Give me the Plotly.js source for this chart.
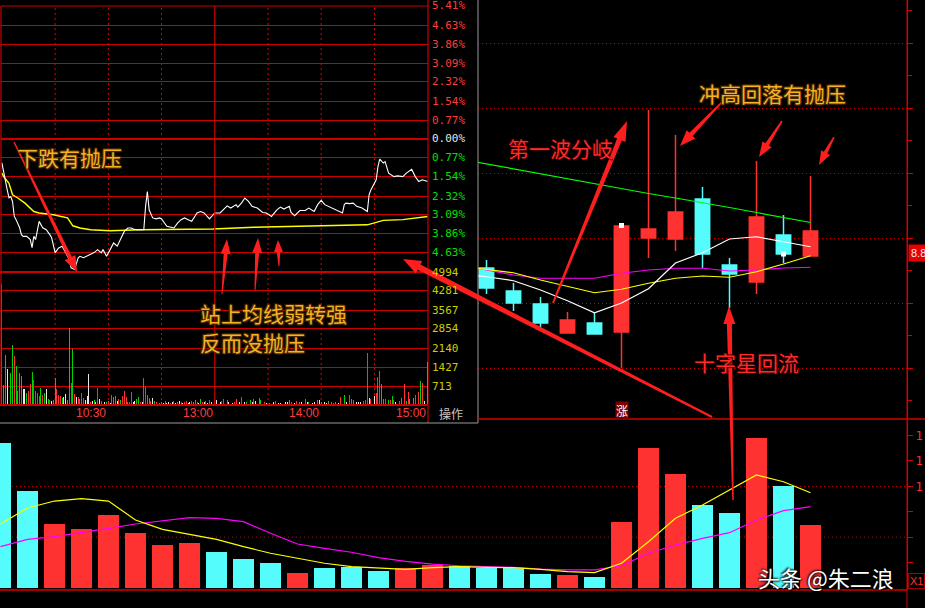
<!DOCTYPE html>
<html>
<head>
<meta charset="utf-8">
<script src="https://cdn.plot.ly/plotly-3.0.1.min.js"></script>
<style>
html,body{margin:0;padding:0;background:#000;overflow:hidden;}
#chart{width:925px;height:608px;}
</style>
</head>
<body>
<div id="chart"></div>
<script>
/* ================= DATA ================= */
/* Daily K-line, visible part (index = trading day) */
const candleIdx = [18,19,20,21,22,23,24,25,26,27,28,29,30];
const openP  = [8.740,8.648,8.596,8.480,8.520,8.484,8.860,8.856,9.016,8.752,8.684,8.872,8.788];
const closeP = [8.660,8.600,8.520,8.532,8.476,8.908,8.896,8.964,8.796,8.716,8.944,8.796,8.888];
const highP  = [8.772,8.680,8.624,8.564,8.560,8.920,9.372,9.272,9.064,8.780,9.168,8.952,9.108];
const lowP   = [8.636,8.568,8.504,8.480,8.476,8.340,8.780,8.808,8.740,8.580,8.636,8.760,8.788];

const maIdx = [17,18,19,20,21,22,23,24,25,26,27,28,29,30];
const ma5P  = [8.716,8.705,8.689,8.652,8.609,8.561,8.600,8.657,8.760,8.801,8.856,8.865,8.845,8.825];
const ma10P = [8.748,8.734,8.721,8.692,8.665,8.641,8.655,8.679,8.699,8.708,8.703,8.725,8.756,8.789];
const ma20P = [8.756,8.732,8.712,8.699,8.699,8.699,8.719,8.732,8.739,8.739,8.728,8.732,8.740,8.743];
const ma60P = [9.176,9.156,9.136,9.116,9.096,9.078,9.058,9.038,9.020,9.002,8.982,8.962,8.942,8.922];

const signalIdx = [23,29];
const signalP   = [8.910,8.796];
const lastPrice = 8.80;
const lastPriceText = "8.8";

/* Daily volume (lots) */
const volIdx = [0,1,2,3,4,5,6,7,8,9,10,11,12,13,14,15,16,17,18,19,20,21,22,23,24,25,26,27,28,29,30];
const volAmt = [171600,114900,75600,69700,86200,65000,50800,53100,42500,34300,29500,17700,24000,24800,20100,24000,27200,26300,23600,23600,16500,15400,13300,78300,165700,135000,98000,88600,177500,120800,74400];
const volDir = ['d','d','u','u','u','u','u','u','d','d','d','u','d','d','d','u','u','d','d','d','d','u','d','u','u','u','d','d','u','d','u'];
const volMa5  = [75600,94500,102700,105500,102700,80300,69300,63800,57500,48800,41000,35100,29200,25200,23300,22100,24000,25200,24400,24000,22100,19300,18100,29200,54700,82300,98000,115700,133500,125500,112500];
const volMa10 = [48800,57500,60600,65300,70500,75600,79500,83000,82300,78300,64600,52000,46900,42200,35800,31500,28300,26300,25200,24400,22400,21300,21300,26300,41000,50800,58700,65300,80300,91300,96000];
const volTickVals = [30000,60000,90000,120000,150000,180000];
const volTickText = ["","","","1","1","1"];
const volGridVals = [60000,120000];

/* Intraday (minute index 0..240, 120 = 13:00) */
const tickT = [0,1,2,3,4,5,6,7,8,10,11,12,14,16,17,18,19,20,21,23,25,27,28,30,32,34,36,38,39,41,43,44,46,48,50,52,54,56,57,59,61,63,65,67,69,71,73,74,76,79,80,81,82,83,85,87,89,90,93,97,99,101,103,105,107,110,112,114,117,120,123,127,129,132,133,135,137,139,141,144,147,149,152,155,157,159,162,163,165,168,171,173,176,178,180,182,184,187,190,192,193,194,196,198,200,203,206,207,208,209,211,212,213,215,216,218,221,223,226,228,231,233,235,237,240];
const tickPct = [-0.97,-1.38,-1.66,-2.07,-2.39,-2.34,-2.54,-3.15,-3.28,-3.61,-3.89,-3.96,-3.96,-4.09,-4.42,-3.96,-4.09,-3.69,-3.35,-3.61,-3.69,-3.89,-4.01,-4.62,-4.43,-4.36,-4.62,-4.90,-5.24,-5.31,-4.83,-4.77,-4.83,-4.77,-4.70,-4.62,-4.50,-4.63,-4.50,-4.77,-4.50,-4.23,-4.36,-4.09,-3.76,-3.62,-3.62,-3.66,-3.69,-3.69,-3.69,-2.74,-2.14,-2.88,-3.21,-3.25,-3.21,-3.25,-3.55,-3.62,-3.42,-3.28,-3.21,-3.28,-3.35,-3.01,-2.95,-3.01,-3.25,-3.01,-3.01,-2.72,-2.81,-2.67,-2.77,-2.61,-2.40,-2.54,-2.74,-2.81,-2.99,-3.01,-3.15,-2.88,-2.77,-2.85,-2.74,-2.99,-3.12,-2.91,-2.91,-2.81,-2.95,-2.67,-2.50,-2.67,-2.74,-2.85,-2.95,-3.01,-2.67,-2.61,-2.63,-2.61,-2.74,-2.81,-2.95,-2.27,-2.07,-1.93,-1.66,-1.12,-0.82,-0.98,-0.92,-1.39,-1.53,-1.50,-1.53,-1.39,-1.23,-1.53,-1.73,-1.66,-1.73];
const avgT   = [0,1,4,6,9,13,18,21,29,37,40,44,50,61,78,119,142,179,206,211,215,226,234,240];
const avgPct = [-1.38,-1.53,-1.80,-2.27,-2.40,-2.61,-2.95,-3.01,-3.08,-3.21,-3.53,-3.62,-3.69,-3.73,-3.69,-3.66,-3.59,-3.55,-3.49,-3.39,-3.31,-3.28,-3.21,-3.15];

const amVol = [4538,750,1875,1350,563,1200,2250,1838,1463,525,
  1200,1088,600,600,450,525,788,1238,938,525,
  450,338,638,375,450,600,225,188,150,188,
  1013,600,375,338,263,300,413,188,2888,825,
  2100,413,300,300,225,450,263,188,338,1163,
  113,150,188,113,638,225,150,113,113,113,
  150,75,375,300,338,150,225,188,338,525,
  300,113,113,488,113,150,225,300,113,113,
  1013,675,375,263,150,263,150,113,113,75,
  113,75,150,75,113,75,113,150,75,113,
  150,113,75,113,150,75,113,150,113,188,
  113,75,225,113,113,150,75,188,113,225];
const amDir = ("gggwrggrgg"+"ggwwgrrgrr"+"rrgrgwgrwg"+"grrrgwwggr"+"grwrgrrwww"+"rwgwrwgrwg"+"rwrggwrgrr"+"rgrrwwggrw"+"rrggrwgrwg"+"gwgwwrwrwr"+"wrwrrwwrgg"+"rwgrwrwrwr").split("");
const pmT = [120,121,123,124,125,127,128,130,131,132,134,135,137,138,140,141,142,143,145,146,148,149,150,151,153,154,156,157,158,160,161,162,163,165,166,168,169,171,172,173,175,176,178,179,180,182,183,184,186,187,188,190,191,193,194,196,197,198,200,201,202,204,205,206,207,208,210,211,212,213,214,215,216,218,219,220,221,222,224,225,227,228,229,230,232,233,234,235,236,237,238,240];
const pmVol = [113,188,113,150,225,188,113,75,113,225,
  113,300,113,113,188,113,225,150,263,188,
  113,75,113,75,113,150,75,75,38,113,
  113,188,113,75,150,113,113,225,113,113,
  75,113,188,188,113,113,75,150,113,75,
  113,75,300,375,113,375,225,188,113,113,
  113,150,188,1950,263,225,338,450,1050,1275,
  788,225,225,188,188,338,188,113,150,263,
  788,150,488,225,263,375,225,488,900,825,
  150,1613];
const pmDir = ("rwwrrgwwrr"+"wrwggwrwgg"+"rwwgwrwwgw"+"wgrwrgwrwg"+"wwrwgwwggr"+"gwrgwrggww"+"wrrrwrwrrr"+"ggrgrgrwrg"+"rgrggrgrgr"+"ww").split("");

const pctVals = [5.41,4.63,3.86,3.09,2.32,1.54,0.77,0,-0.77,-1.54,-2.32,-3.09,-3.86,-4.63];
const pctText = ["5.41%","4.63%","3.86%","3.09%","2.32%","1.54%","0.77%","0.00%","0.77%","1.54%","2.32%","3.09%","3.86%","4.63%"];
const ivolVals = [4994,4281,3567,2854,2140,1427,713];
const ivolText = ["4994","4281","3567","2854","2140","1427","713"];
const timeT = [60,120,180,240];
const timeText = ["10:30","13:00","14:00","15:00"];
const dotTimeT = [30,60,90,150,180,210];

/* ================= HELPERS ================= */
const W = 925, H = 608;
const X = px => px / W;
const Y = py => 1 - py / H;
const RED = '#ff3232', CYAN = '#54fcfc', GRID = '#cc0000', AXR = '#d40000';
const dirColor = {u: RED, d: CYAN};
const iColor = {r: '#ff3232', g: '#00d400', w: '#e8e8e8'};
const CJK = 'Noto Sans CJK SC';
const MONO = 'DejaVu Sans Mono';

/* ================= TRACES ================= */
const traces = [
  {type:'bar', x: amVol.map((v,i)=>i), y: amVol, xaxis:'x3', yaxis:'y4', width:0.55,
   marker:{color: amDir.map(c=>iColor[c]), line:{width:0}}, hoverinfo:'skip'},
  {type:'bar', x: pmT, y: pmVol, xaxis:'x3', yaxis:'y4', width:0.55,
   marker:{color: pmDir.map(c=>iColor[c]), line:{width:0}}, hoverinfo:'skip'},
  {type:'scatter', mode:'lines', x: avgT, y: avgPct, xaxis:'x3', yaxis:'y3',
   line:{color:'#ffff00', width:1.4}, hoverinfo:'skip'},
  {type:'scatter', mode:'lines', x: tickT, y: tickPct, xaxis:'x3', yaxis:'y3',
   line:{color:'#ffffff', width:1.1}, hoverinfo:'skip'},
  {type:'bar', x: volIdx, y: volAmt, xaxis:'x2', yaxis:'y2', width:0.78,
   marker:{color: volDir.map(d=>dirColor[d]), line:{width:0}}, hoverinfo:'skip'},
  {type:'scatter', mode:'lines', x: volIdx, y: volMa10, xaxis:'x2', yaxis:'y2',
   line:{color:'#ff00ff', width:1.2}, hoverinfo:'skip'},
  {type:'scatter', mode:'lines', x: volIdx, y: volMa5, xaxis:'x2', yaxis:'y2',
   line:{color:'#ffff00', width:1.2}, hoverinfo:'skip'},
  {type:'candlestick', x: candleIdx, open: openP, high: highP, low: lowP, close: closeP,
   xaxis:'x', yaxis:'y', whiskerwidth:0,
   increasing:{line:{color:RED, width:1.5}, fillcolor:RED},
   decreasing:{line:{color:CYAN, width:1.5}, fillcolor:CYAN}, hoverinfo:'skip'},
  {type:'scatter', mode:'lines', x: maIdx, y: ma60P, xaxis:'x', yaxis:'y',
   line:{color:'#00ff00', width:1.2}, hoverinfo:'skip'},
  {type:'scatter', mode:'lines', x: maIdx, y: ma20P, xaxis:'x', yaxis:'y',
   line:{color:'#ff00ff', width:1.2}, hoverinfo:'skip'},
  {type:'scatter', mode:'lines', x: maIdx, y: ma10P, xaxis:'x', yaxis:'y',
   line:{color:'#ffff00', width:1.2}, hoverinfo:'skip'},
  {type:'scatter', mode:'lines', x: maIdx, y: ma5P, xaxis:'x', yaxis:'y',
   line:{color:'#ffffff', width:1.2}, hoverinfo:'skip'},
  {type:'scatter', mode:'markers', x: signalIdx, y: signalP, xaxis:'x', yaxis:'y',
   marker:{symbol:'square', size:5, color:'#ffffff'}, hoverinfo:'skip'}
];

/* ================= SHAPES ================= */
function hline(py, x0, x1, color, w, dash) {
  return {type:'line', xref:'paper', yref:'paper', x0:X(x0), x1:X(x1), y0:Y(py), y1:Y(py),
          line:{color, width:w, dash: dash || 'solid'}, layer:'above'};
}
function vline(px, y0, y1, color, w) {
  return {type:'line', xref:'paper', yref:'paper', x0:X(px), x1:X(px), y0:Y(y0), y1:Y(y1),
          line:{color, width:w}, layer:'above'};
}
function arrowShape(tx, ty, hx, hy, wt, wn, hl, hw) {
  const dx = hx - tx, dy = hy - ty, L = Math.hypot(dx, dy);
  const ux = dx / L, uy = dy / L, nx = -uy, ny = ux;
  const cx = hx - ux * hl, cy = hy - uy * hl;
  const pts = [
    [tx + nx*wt/2, ty + ny*wt/2], [cx + nx*wn/2, cy + ny*wn/2], [cx + nx*hw/2, cy + ny*hw/2],
    [hx, hy],
    [cx - nx*hw/2, cy - ny*hw/2], [cx - nx*wn/2, cy - ny*wn/2], [tx - nx*wt/2, ty - ny*wt/2]
  ];
  const path = 'M' + pts.map(p => X(p[0]).toFixed(5) + ',' + Y(p[1]).toFixed(5)).join('L') + 'Z';
  return {type:'path', xref:'paper', yref:'paper', path, fillcolor:'#ff1e1e',
          line:{width:0}, layer:'above'};
}

const shapes = [];
// inset dotted time lines
dotTimeT.forEach(t => shapes.push({type:'line', xref:'x3', yref:'paper', x0:t, x1:t, y0:Y(405), y1:Y(6),
  line:{color:'#e00000', width:1, dash:'2px,3px'}, layer:'below'}));
shapes.push(
  hline(6, 1, 428, GRID, 1.2),
  vline(1, 6, 405, GRID, 1.2),
  vline(428, 0, 423, GRID, 1.2),
  hline(139, 1, 428, GRID, 2),
  hline(272, 0, 428, GRID, 2),
  hline(405, 0, 428, GRID, 2),
  {type:'line', xref:'x3', yref:'paper', x0:120, x1:120, y0:Y(405), y1:Y(6),
   line:{color:GRID, width:1.2}, layer:'above'},
  vline(478, 0, 423, '#9a9a9a', 1),
  hline(423, 0, 478, '#9a9a9a', 1),
  hline(419, 478, 925, AXR, 1.5),
  hline(590, 0, 907, AXR, 1.5),
  vline(907, 0, 608, AXR, 1),
  arrowShape(14, 142, 77, 272, 1.5, 4, 16, 12),
  arrowShape(222, 294, 227, 239, 1, 4, 15, 10),
  arrowShape(255, 290, 258, 238, 1, 4, 15, 10),
  arrowShape(279, 266, 278, 240, 1, 3.5, 12, 9),
  arrowShape(712, 417, 403, 259, 2, 6, 18, 14),
  arrowShape(553, 303, 627, 121, 2, 5, 20, 13),
  arrowShape(722, 102, 680, 146, 1.5, 4.5, 16, 12),
  arrowShape(782, 121, 759, 157, 1.5, 4, 15, 11),
  arrowShape(834, 137, 819, 165, 1.5, 4, 14, 10),
  arrowShape(733, 500, 729, 306, 1.5, 5, 18, 12)
);
volGridVals.forEach(v => shapes.push({type:'line', xref:'paper', yref:'y2', x0:0, x1:X(907), y0:v, y1:v,
  line:{color:GRID, width:1, dash:'1px,3px'}, layer:'below'}));

/* ================= ANNOTATIONS ================= */
const ann = [];
const GOLD = '#f2b325';
const goldShadow = '1px 1px 1px #4a2800, -1px -1px 1px #4a2800, 1px -1px 1px #4a2800, -1px 1px 1px #4a2800';
const redShadow = '1px 1px 1px #300000, -1px -1px 1px #300000';
function cjkTxt(text, px, py, color, shadow, size) {
  ann.push({xref:'paper', yref:'paper', x:X(px), y:Y(py), xanchor:'left', yanchor:'middle',
    text, showarrow:false, font:{family:CJK, size: size || 21, color, shadow}});
}
cjkTxt('下跌有抛压', 15, 157, GOLD, goldShadow);
cjkTxt('站上均线弱转强', 198, 313, GOLD, goldShadow);
cjkTxt('反而没抛压', 198, 342, GOLD, goldShadow);
cjkTxt('第一波分岐', 506, 148, '#ff2a2a', redShadow);
cjkTxt('冲高回落有抛压', 697, 93, GOLD, goldShadow);
cjkTxt('十字星回流', 692, 362, '#ff2a2a', redShadow);
cjkTxt('头条 @朱二浪', 756, 577, '#ffffff', '1px 1px 2px #000, -1px -1px 2px #000', 22);

pctVals.forEach((v, i) => {
  const c = v > 0 ? '#ff3c3c' : (v < 0 ? '#00e000' : '#e6e6e6');
  ann.push({xref:'paper', yref:'y3', x:X(430), y:v, xanchor:'left', yanchor:'middle',
    text:pctText[i], showarrow:false, font:{family:MONO, size:11, color:c}});
});
ivolVals.forEach((v, i) => {
  ann.push({xref:'paper', yref:'y4', x:X(430), y:v, xanchor:'left', yanchor:'middle',
    text:ivolText[i], showarrow:false, font:{family:MONO, size:11, color:'#cccc00'}});
});
timeT.forEach((t, i) => {
  ann.push({xref:'x3', yref:'paper', x:t, y:Y(413), xanchor:'right', yanchor:'middle',
    text:timeText[i], showarrow:false, font:{family:'Liberation Sans', size:12, color:'#ff3c3c'}});
});
ann.push({xref:'paper', yref:'paper', x:X(451), y:Y(413), xanchor:'center', yanchor:'middle',
  text:'操作', showarrow:false, font:{family:CJK, size:12, color:'#c8c8c8'}});

ann.push({xref:'paper', yref:'y', x:X(908), y:lastPrice, xanchor:'left', yanchor:'middle',
  text:lastPriceText, showarrow:false, bgcolor:'#e60000', borderpad:2,
  font:{family:'Liberation Sans', size:11, color:'#ffe4e4'}});
ann.push({xref:'x', yref:'paper', x:23, y:Y(410), xanchor:'center', yanchor:'middle',
  text:'涨', showarrow:false, bgcolor:'#7a0000', borderpad:0,
  font:{family:CJK, size:12, color:'#ffffff'}});
ann.push({xref:'paper', yref:'paper', x:X(908), y:Y(581), xanchor:'left', yanchor:'middle',
  text:'X1', showarrow:false, bordercolor:'#a00000', borderwidth:1, borderpad:1,
  font:{family:'Liberation Sans', size:11, color:'#ff3030'}});

/* ================= LAYOUT ================= */
const priceTop = 9.812, priceBot = 8.136;
const hidden = {showgrid:false, zeroline:false, showticklabels:false, ticks:'', showline:false, fixedrange:true};
const layout = {
  width: W, height: H,
  margin:{l:0, r:0, t:0, b:0, pad:0},
  paper_bgcolor:'#000', plot_bgcolor:'#000',
  showlegend:false, hovermode:false, dragmode:false,
  boxgap:0.24, bargap:0,
  xaxis: Object.assign({}, hidden, {domain:[X(478), X(907)], range:[17.6852, 33.5741], anchor:'y',
    rangeslider:{visible:false}}),
  yaxis: {domain:[Y(419), 1], range:[priceBot, priceTop], anchor:'x', side:'right',
    showline:true, linecolor:AXR, linewidth:1, ticks:'outside', ticklen:5, tickcolor:AXR,
    tickmode:'linear', tick0:8.34, dtick:0.26, showticklabels:false,
    showgrid:true, gridcolor:'#d00000', gridwidth:1, griddash:'1px,3px', zeroline:false, fixedrange:true,
    minor:{tickmode:'linear', tick0:8.21, dtick:0.26, ticks:'outside', ticklen:4, tickcolor:AXR, showgrid:false}},
  xaxis2: Object.assign({}, hidden, {domain:[0, X(907)], range:[-0.018519, 33.5741], anchor:'y2'}),
  yaxis2: {domain:[Y(590), Y(420)], range:[-2362, 198408], anchor:'x2', side:'right',
    showline:true, linecolor:AXR, linewidth:1, ticks:'outside', ticklen:5, tickcolor:AXR,
    tickmode:'array', tickvals: volTickVals, ticktext: volTickText,
    tickfont:{family:MONO, size:12, color:'#ff3030'}, showgrid:false, zeroline:false, fixedrange:true},
  xaxis3: Object.assign({}, hidden, {domain:[X(1), X(428)], range:[-0.5, 240.2], anchor:'y3'}),
  yaxis3: Object.assign({}, hidden, {domain:[Y(272), Y(6)], range:[-5.41, 5.41], anchor:'x3',
    tickmode:'array', tickvals: pctVals, showgrid:true, gridcolor:GRID, gridwidth:1}),
  yaxis4: Object.assign({}, hidden, {domain:[Y(405), Y(272)], range:[0, 4994], anchor:'x3',
    tickmode:'array', tickvals: ivolVals, showgrid:true, gridcolor:GRID, gridwidth:1}),
  shapes, annotations: ann
};

Plotly.newPlot('chart', traces, layout, {staticPlot:true, displayModeBar:false});
</script>
</body>
</html>
